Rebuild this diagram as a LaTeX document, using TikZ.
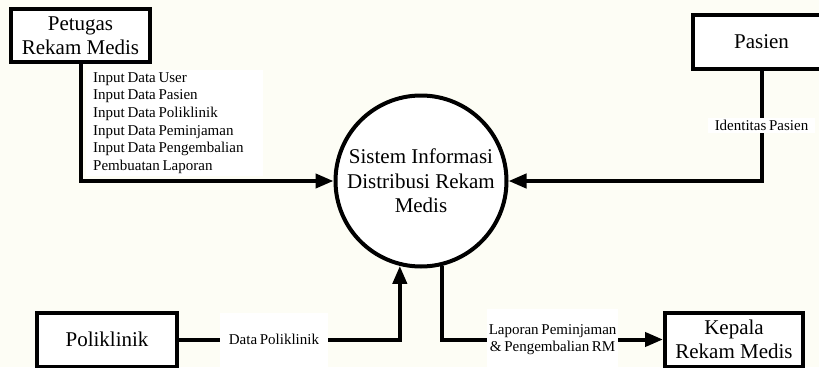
\documentclass[tikz,border=0pt]{standalone}
\usepackage{fontspec}
\setmainfont{Liberation Serif}
\newfontfamily\lblfont{Liberation Serif}
\usetikzlibrary{arrows.meta}
\definecolor{paper}{RGB}{253,253,245}
% narrow word spaces for the flow labels
\DeclareRobustCommand\lblspacing{\spaceskip=0.18em\relax\xspaceskip=0.18em\relax}
\begin{document}
\begin{tikzpicture}[x=1pt,y=-1pt,
  entity/.style={draw,line width=4pt,fill=white,inner sep=0pt,align=center,
    font=\fontsize{21}{23.5}\selectfont},
  process/.style={circle,draw,line width=4pt,fill=white,inner sep=0pt,
    minimum size=171pt,align=center,font=\fontsize{21}{24.5}\selectfont},
  flow/.style={line width=4pt,-{Triangle[length=18pt,width=14pt]}},
  lbl/.style={fill=white,inner xsep=7pt,inner ysep=2pt,align=center,
    font=\lblfont\fontsize{15}{17.7}\selectfont\lblspacing}]
  \useasboundingbox (0,0) rectangle (819,367);
  \fill[paper] (0,0) rectangle (819,367);
  \clip (0,0) rectangle (819,367);

  % external entities
  \node[entity,minimum width=139pt,minimum height=53pt] (pet) at (80.5,35.5)
    {Petugas\\Rekam Medis};
  \node[entity,minimum width=137pt,minimum height=54pt] (pas) at (761.5,41.5)
    {Pasien};
  \node[entity,minimum width=140pt,minimum height=54pt] (pol) at (107,339.5)
    {Poliklinik};
  \node[entity,minimum width=138pt,minimum height=54pt] (kep) at (734,339.5)
    {Kepala\\Rekam Medis};

  % the process
  \node[process] (c) at (421,181) {Sistem Informasi\\Distribusi Rekam\\Medis};

  % data flows
  \draw[flow] (pet) |- (c);
  \node[lbl,anchor=north west,text width=163pt,inner xsep=7pt,align=left,
    minimum height=102pt] (petlbl) at (86,70)
    {\lblspacing Input Data User\\Input Data Pasien\\Input Data Poliklinik\\
     Input Data Peminjaman\\Input Data Pengembalian\\Pembuatan Laporan};

  \draw[flow] (pas) -- node[lbl] (paslbl) {Identitas Pasien} (pas |- c) -- (c);

  \draw[flow] (pol) -| node[lbl,pos=0.215,minimum height=54pt,inner xsep=9pt]
    (pollbl) {Data Poliklinik} (c.256.4);

  \draw[flow] (c.284.2) |- node[lbl,pos=0.75,minimum height=62pt,inner xsep=2pt]
    (keplbl) {Laporan Peminjaman\\\& Pengembalian RM} (kep);
\end{tikzpicture}
\end{document}
